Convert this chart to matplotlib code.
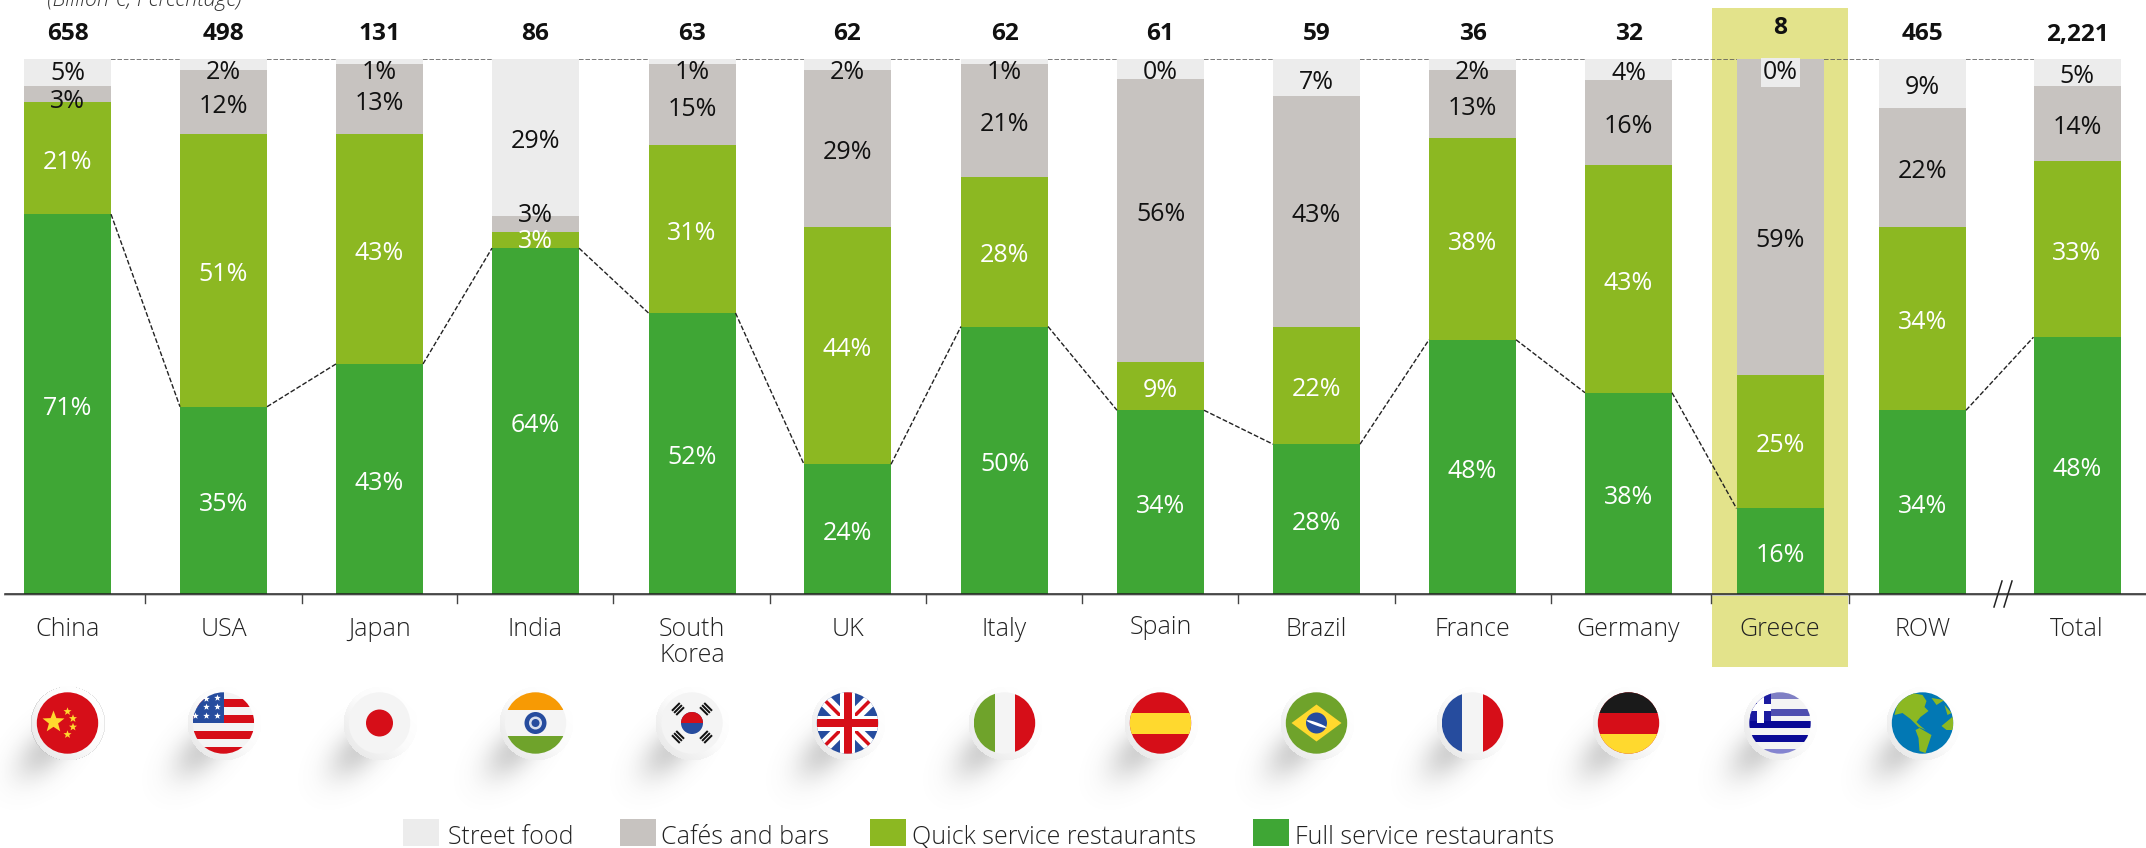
import matplotlib
matplotlib.use("Agg")
import matplotlib.pyplot as plt
import numpy as np
from matplotlib.patches import Circle, Ellipse, Polygon, Rectangle

plt.rcParams["font.family"] = ["Open Sans", "DejaVu Sans"]

# Data
countries = ["China", "USA", "Japan", "India", "South\nKorea", "UK", "Italy", "Spain",
             "Brazil", "France", "Germany", "Greece", "ROW", "Total"]
market_size = ["658", "498", "131", "86", "63", "62", "62", "61", "59", "36", "32", "8", "465", "2,221"]
full_service = [71, 35, 43, 64, 52, 24, 50, 34, 28, 48, 38, 16, 34, 48]
quick_service = [21, 51, 43, 3, 31, 44, 28, 9, 22, 38, 43, 25, 34, 33]
cafes_bars = [3, 12, 13, 3, 15, 29, 21, 56, 43, 13, 16, 59, 22, 14]
street_food = [5, 2, 1, 29, 1, 2, 1, 0, 7, 2, 4, 0, 9, 5]
series_names = ["Full service restaurants", "Quick service restaurants", "Cafés and bars", "Street food"]

# Layout, in pixels of the 2146x848 canvas
W, H = 2146, 848
BASE_Y, TOP_Y = 594, 59
BAR_W = 87
centers = [67.5, 223.5, 379.5, 535.5, 692, 847.5, 1004.5, 1160.5, 1316.5, 1472.5, 1628.5, 1780, 1922.5, 2077]
tick_x = [145, 301.5, 457, 613, 769.5, 926, 1082, 1238, 1394.5, 1551, 1711, 1849]
FLAG_Y, FLAG_R = 723, 30.7

colors = ["#3fa635", "#8cb822", "#c7c3c0", "#ececec"]
text_colors = ["white", "white", "#111111", "#111111"]
HIGHLIGHT = "#e3e38b"
RED, BLUE, YELLOW, WHITE, GREEN = "#d60e18", "#264c9e", "#ffd92e", "#f4f4f4", "#6fa32b"

# Labels that sit off their segment centre: (country, series index) -> shift in %
label_nudge = {("India", 2): 2.4, ("India", 1): 0.6, ("China", 3): 0.5, ("China", 2): -0.6, ("Greece", 2): -3.7}

fig = plt.figure(figsize=(W / 100, H / 100), dpi=100)

# Pixel overlay for everything around the bars
ov = fig.add_axes([0, 0, 1, 1], zorder=3)
ov.set_xlim(0, W)
ov.set_ylim(H, 0)
ov.axis("off")

under = fig.add_axes([0, 0, 1, 1], zorder=0)
under.set_xlim(0, W)
under.set_ylim(H, 0)
under.axis("off")
under.add_patch(Rectangle((1712, 8), 136, 659, color=HIGHLIGHT, lw=0))

# Bars: y axis runs 0-100 % between the baseline and the top rule
ax = fig.add_axes([0, 1 - BASE_Y / H, 1, (BASE_Y - TOP_Y) / H], zorder=1)
ax.patch.set_alpha(0)
ax.set_xlim(0, W)
ax.set_ylim(0, 100)
ax.axis("off")

values = [full_service, quick_service, cafes_bars, street_food]
stack = np.array(values, dtype=float)
shares = stack / stack.sum(axis=0) * 100
bottom = np.zeros(len(countries))
for k in range(4):
    ax.bar(centers, shares[k], BAR_W, bottom=bottom, color=colors[k], lw=0)
    bottom += shares[k]

# Dashed rules between the bars
for i in range(len(centers) - 1):
    x0, x1 = centers[i] + BAR_W / 2, centers[i + 1] - BAR_W / 2
    ax.plot([x0, x1], [100, 100], color="#555555", lw=1.1, ls=(0, (3, 1.2)), zorder=2)
    if i != 11:
        ax.plot([x0, x1], [shares[0][i], shares[0][i + 1]], color="#222222", lw=1.0,
                ls=(0, (3.5, 1.5)), zorder=2)

# Zero segments still get a light plate behind their label
ax.bar(centers[7], 3.7, BAR_W, bottom=96.3, color=colors[3], lw=0, zorder=2)

# Percentage labels
for k in range(4):
    low = shares[:k].sum(axis=0)
    for i in range(len(countries)):
        y = min(low[i] + shares[k][i] / 2, 98.2) - 0.8
        y += label_nudge.get((countries[i], k), 0)
        box = None
        if countries[i] == "Greece" and k == 3:
            box = dict(facecolor=colors[3], edgecolor="none", pad=1.5)
        ax.text(centers[i], y, f"{values[k][i]}%", color=text_colors[k], fontsize=18,
                ha="center", va="center", bbox=box, zorder=4)

# Totals above the bars
for i, label in enumerate(market_size):
    ov.text(centers[i], 28 if countries[i] == "Greece" else 34.5, label, fontsize=17.6, fontweight="bold",
            color="#111111", ha="center", va="center")

ov.text(47, 0, "(Billion €, Percentage)", fontsize=15.5, style="italic", fontweight="light",
        color="#333333", ha="left", va="center")

# Category labels
for i, name in enumerate(countries):
    y = 627 if name == "Spain" else 630
    if "\n" in name:
        ov.text(centers[i], 642.5, name, fontsize=18, fontweight="light", color="#222222",
                ha="center", va="center", linespacing=1.05)
    else:
        ov.text(centers[i], y, name, fontsize=18, fontweight="light", color="#222222",
                ha="center", va="center")

# Axis line, ticks and break mark
ov.plot([5, W], [595.2, 595.2], color="#c4c4c4", lw=1.4, zorder=1)
ov.plot([5, W], [594.3, 594.3], color="#222222", lw=1.1, zorder=1)
for x in tick_x:
    ov.plot([x, x], [594, 603], color="#444444", lw=1.0)
for dx in (0, 10):
    ov.plot([1994 + dx, 2002 + dx], [607, 581], color="#222222", lw=1.1)

# Legend
legend_x = [403, 620, 870, 1253]
legend_text_x = [447.5, 661, 912, 1295]
for k, (sx, tx) in enumerate(zip(legend_x, legend_text_x)):
    ov.add_patch(Rectangle((sx, 819), 36, 27, color=colors[3 - k], lw=0))
    ov.text(tx, 838, series_names[3 - k], fontsize=18, fontweight="light", color="#222222",
            ha="left", va="center")


def button_image():
    # Raised disc with a soft shadow falling to the lower left
    n = 200
    yy, xx = np.mgrid[-n / 2:n / 2, -n / 2:n / 2]
    u = ((xx + 24) - (yy - 28)) / np.sqrt(2)
    v = ((xx + 24) + (yy - 28)) / np.sqrt(2)
    shadow = 0.32 * np.exp(-(u / 34) ** 2 - (v / 20) ** 2)
    rgba = np.zeros((n, n, 4))
    rgba[..., :3] = 0.45
    rgba[..., 3] = shadow
    disc = np.sqrt(xx ** 2 + yy ** 2) < 37
    shade = 0.985 + (xx - yy) / 37 * 0.012 - 0.05 * np.clip((yy - xx) / 52, 0, 1)
    rgba[disc, :3] = np.clip(shade[disc], 0, 1)[:, None]
    rgba[disc, 3] = 1
    return rgba


def star(cx, cy, r, color=YELLOW, zorder=6, angle=-90):
    t = np.deg2rad(angle + np.arange(10) * 36)
    rad = np.where(np.arange(10) % 2 == 0, r, r * 0.42)
    return ov.add_patch(Polygon(np.c_[cx + rad * np.cos(t), cy + rad * np.sin(t)], color=color, lw=0, zorder=zorder))


def clipped(artist, clip):
    artist.set_clip_path(clip)
    return artist


def band(cx, cy, x0, y0, w, h, color, clip, zorder=5):
    return clipped(ov.add_patch(Rectangle((cx + x0, cy + y0), w, h, color=color, lw=0, zorder=zorder)), clip)


def flag(name, cx, cy, r):
    base = {"China": RED, "USA": WHITE, "Japan": WHITE, "India": WHITE, "South\nKorea": WHITE,
            "UK": BLUE, "Italy": WHITE, "Spain": RED, "Brazil": GREEN, "France": WHITE,
            "Germany": RED, "Greece": WHITE, "ROW": "#0278b4"}[name]
    clip = ov.add_patch(Circle((cx, cy), r, color=base, lw=0, zorder=4))
    if name == "China":
        star(cx - 14, cy - 1, 11.5)
        for dx, dy in [(0, -11.5), (5.5, -4.5), (5.5, 4), (0, 11.5)]:
            star(cx + dx, cy + dy, 4.2)
    elif name == "USA":
        for y0 in (-24, -8, 8, 24):
            band(cx, cy, -r, y0, 2 * r, 8, RED, clip)
        band(cx, cy, -r, -r, r, r, BLUE, clip)
        for dx, dy in [(-6, -25), (-6, -16), (-6, -7), (-17, -16), (-17, -7), (-28, -7), (-17, -24)]:
            star(cx + dx, cy + dy, 3.4, color="white")
    elif name == "Japan":
        ov.add_patch(Circle((cx, cy), 13.5, color=RED, lw=0, zorder=5))
    elif name == "India":
        band(cx, cy, -r, -r, 2 * r, r - 12.7, "#f79a04", clip)
        band(cx, cy, -r, 13.3, 2 * r, r, GREEN, clip)
        ov.add_patch(Circle((cx, cy), 11, color=BLUE, lw=0, zorder=5))
        ov.add_patch(Circle((cx, cy), 6.5, color="#d8dfee", lw=0, zorder=6))
        ov.add_patch(Circle((cx, cy), 4, color=BLUE, lw=0, zorder=7))
    elif name == "South\nKorea":
        ov.add_patch(Circle((cx, cy), 11, color=BLUE, lw=0, zorder=5))
        clipped(ov.add_patch(Rectangle((cx - 11, cy - 11), 22, 11, color=RED, lw=0, zorder=6)),
                ov.add_patch(Circle((cx, cy), 11, fc="none", lw=0)))
        # Trigrams, each bar square to the line through the centre
        for sx, sy in [(-1, -1), (1, -1), (-1, 1), (1, 1)]:
            a = -45 if sx * sy > 0 else 45
            for off in (-3, 0, 3):
                px = cx + sx * (14 + off * 0.707)
                py = cy + sy * (14 + off * 0.707)
                ov.add_patch(Rectangle((px - 5.5, py - 1), 11, 2, color="#111111", lw=0, zorder=6,
                                       angle=a, rotation_point="center"))
    elif name == "UK":
        for b, w, c in [(1, 13, "white"), (-1, 13, "white"), (1, 3.5, RED), (-1, 3.5, RED)]:
            line, = ov.plot([cx - r, cx + r], [cy - b * r, cy + b * r], color=c, lw=w * 0.72,
                            solid_capstyle="butt", zorder=5)
            line.set_clip_path(clip)
        band(cx, cy, -r, -7.5, 2 * r, 15, "white", clip)
        band(cx, cy, -7.5, -r, 15, 2 * r, "white", clip)
        band(cx, cy, -r, -4, 2 * r, 8, RED, clip)
        band(cx, cy, -4, -r, 8, 2 * r, RED, clip)
    elif name == "Italy":
        band(cx, cy, -r, -r, r - 10, 2 * r, GREEN, clip)
        band(cx, cy, 10, -r, r, 2 * r, RED, clip)
    elif name == "Spain":
        band(cx, cy, -r, -10.5, 2 * r, 21, YELLOW, clip)
    elif name == "Brazil":
        ov.add_patch(Polygon([(cx - 25, cy), (cx, cy - 18.5), (cx + 25, cy), (cx, cy + 18.5)],
                             color=YELLOW, lw=0, zorder=5))
        ov.add_patch(Circle((cx, cy), 10.5, color=BLUE, lw=0, zorder=6))
        ov.add_patch(Ellipse((cx, cy + 1), 21, 3, angle=20, color="white", lw=0, zorder=7))
    elif name == "France":
        band(cx, cy, -r, -r, r - 10.5, 2 * r, BLUE, clip)
        band(cx, cy, 10.5, -r, r, 2 * r, RED, clip)
    elif name == "Germany":
        band(cx, cy, -r, -r, 2 * r, r - 10.5, "#1a1a1a", clip)
        band(cx, cy, -r, 11, 2 * r, r, YELLOW, clip)
    elif name == "Greece":
        for y0, c in [(-31, "#7f7fc4"), (-14, "#4f4fb0"), (-2, "#0a0a96"), (12, "#0a0a96"), (26, "#8484d0")]:
            band(cx, cy, -r, y0, 2 * r, 7, c, clip)
        band(cx, cy, -r, -31, 22, 29, "#1c1ca0", clip)
        band(cx, cy, -r, -19, 22, 7, "white", clip)
        band(cx, cy, -r + 8, -31, 7, 31, "white", clip)
    elif name == "ROW":
        land = [[(-24, -25), (-10, -30), (0, -28), (4, -22), (2, -16), (6, -12), (-2, -6), (-6, -1), (-2, 3),
                 (3, 7), (-4, 4), (-12, -4), (-20, -10), (-28, -8)],
                [(-7, 7), (-3, 5), (9, 12), (3, 30), (-3, 28), (-4, 15)],
                [(9, -25), (22, -23), (14, -18)],
                [(22, -18), (29, -10), (25, -8)],
                [(19, 3), (31, -7), (31, 7), (24, 7)]]
        for shape in land:
            pts = [(cx + x, cy + y) for x, y in shape]
            clipped(ov.add_patch(Polygon(pts, color="#8cb822", lw=0, zorder=5)), clip)


# Round flags under the category labels
button = button_image()
for i, name in enumerate(countries[:-1]):
    cx = centers[i]
    ov.imshow(button, extent=(cx - 100, cx + 100, FLAG_Y + 100, FLAG_Y - 100), zorder=2, interpolation="bilinear")
    flag(name, cx, FLAG_Y, FLAG_R)

ov.set_xlim(0, W)
ov.set_ylim(H, 0)
ov.set_aspect("auto")

fig.savefig("out.png", dpi=100, facecolor="white")
